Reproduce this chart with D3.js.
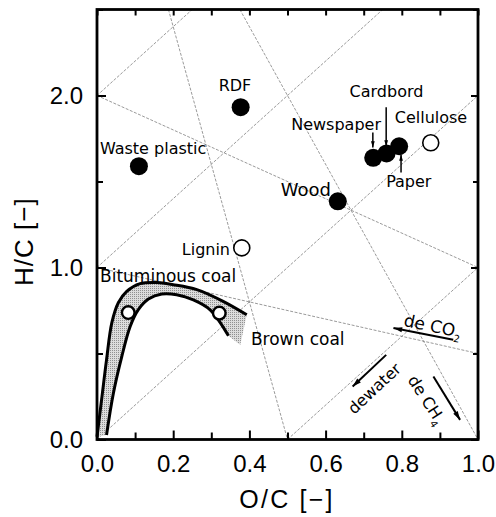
<!DOCTYPE html>
<html>
<head>
<meta charset="utf-8">
<script src="https://cdn.jsdelivr.net/npm/d3@7"></script>
<style>
  body { margin: 0; background: #fff; }
  svg { display: block; }
</style>
</head>
<body>
<div id="chart"></div>
<script>
// fuels (filled markers)
const fuelNames = ["RDF", "Waste plastic", "Wood", "Newspaper", "Cardbord", "Paper"];
const fuelOC = [0.377, 0.110, 0.632, 0.725, 0.760, 0.793];
const fuelHC = [1.932, 1.589, 1.385, 1.638, 1.663, 1.705];

// reference materials (open markers), the two coal ones are unlabeled
const refNames = ["Cellulose", "Lignin", "", ""];
const refOC = [0.876, 0.380, 0.082, 0.321];
const refHC = [1.725, 1.114, 0.738, 0.735];

// coal band edges
const coalOuterOC = [0.0, 0.012, 0.025, 0.039, 0.056, 0.078, 0.113, 0.157, 0.200, 0.262, 0.331, 0.393];
const coalOuterHC = [0.016, 0.23, 0.463, 0.679, 0.795, 0.861, 0.906, 0.913, 0.900, 0.871, 0.803, 0.725];
const coalInnerOC = [0.025, 0.043, 0.065, 0.087, 0.108, 0.135, 0.170, 0.209, 0.253, 0.297, 0.345];
const coalInnerHC = [0.026, 0.269, 0.482, 0.657, 0.754, 0.817, 0.846, 0.842, 0.812, 0.754, 0.603];
const coalShadeEnd = [0.376, 0.55];

// guide lines: dewater (slope 2), de CO2 (through 2,0), de CH4 (through 0,4)
const guideX1 = [0, 0, 0, 0.5, 0, 0, 0.1875, 0.375];
const guideY1 = [2, 1, 0, 0, 2, 1, 2.5, 2.5];
const guideX2 = [0.25, 0.75, 1, 1, 1, 1, 0.5, 1];
const guideY2 = [2.5, 2.5, 2, 1, 1, 0.5, 0, 0];

// reaction direction arrows
const shiftText = ["de CO", "dewater", "de CH"];
const shiftSub = ["2", "", "4"];
const shiftOC0 = [0.935, 0.759, 0.883];
const shiftHC0 = [0.580, 0.492, 0.366];
const shiftOC1 = [0.778, 0.671, 0.953];
const shiftHC1 = [0.648, 0.308, 0.114];

// small pointers for Newspaper, Cardbord, Paper
const pointerOC = [0.724, 0.759, 0.798];
const pointerHC0 = [1.785, 1.931, 1.552];
const pointerHC1 = [1.698, 1.703, 1.657];

const xTicks = [0, 0.1, 0.2, 0.3, 0.4, 0.5, 0.6, 0.7, 0.8, 0.9, 1.0];
const xTickLabels = ["0.0", "0.2", "0.4", "0.6", "0.8", "1.0"];
const yTicks = [0, 0.5, 1.0, 1.5, 2.0, 2.5];
const yTickLabels = ["0.0", "1.0", "2.0"];

// layout
const width = 496, height = 517;
const margin = {top: 9.5, right: 18, bottom: 77.5, left: 97};
const labelFont = "'DejaVu Sans', sans-serif";
const axisFont = "'Liberation Sans', Arial, sans-serif";
const labelOffset = {
  "RDF": [-22, -16, 16], "Waste plastic": [-39, -12, 16], "Wood": [-57, -5, 18],
  "Newspaper": [-82, -28, 16], "Cardbord": [-37, -56, 16], "Paper": [-13, 41, 16],
  "Cellulose": [-36, -20, 16], "Lignin": [-60, 7, 16]
};
const shiftLabelPos = [[0.803, 0.661, 12, 17], [0.675, 0.143, -43, 16], [0.814, 0.3465, 57, 16]];

const x = d3.scaleLinear().domain([0, 1]).range([margin.left, width - margin.right]);
const y = d3.scaleLinear().domain([0, 2.5]).range([height - margin.bottom, margin.top]);

const svg = d3.select("#chart").append("svg")
  .attr("width", width).attr("height", height);

const defs = svg.append("defs");
const pat = defs.append("pattern").attr("id", "stipple")
  .attr("width", 2).attr("height", 2).attr("patternUnits", "userSpaceOnUse");
pat.append("rect").attr("width", 2).attr("height", 2).attr("fill", "#dcdcdc");
pat.append("rect").attr("width", 1).attr("height", 1).attr("fill", "#909090");

defs.append("marker").attr("id", "headBig")
  .attr("viewBox", "0 -4 10 8").attr("refX", 10).attr("refY", 0)
  .attr("markerWidth", 10).attr("markerHeight", 7)
  .attr("markerUnits", "userSpaceOnUse").attr("orient", "auto")
  .append("path").attr("d", "M0,-3L10,0L0,3Z").attr("fill", "#000");
defs.append("marker").attr("id", "headSmall")
  .attr("viewBox", "0 -4 10 8").attr("refX", 10).attr("refY", 0)
  .attr("markerWidth", 7).attr("markerHeight", 5)
  .attr("markerUnits", "userSpaceOnUse").attr("orient", "auto")
  .append("path").attr("d", "M0,-3L10,0L0,3Z").attr("fill", "#000");

// guide lines
svg.append("g").selectAll("line")
  .data(guideX1)
  .join("line")
  .attr("x1", (d, i) => x(guideX1[i])).attr("y1", (d, i) => y(guideY1[i]))
  .attr("x2", (d, i) => x(guideX2[i])).attr("y2", (d, i) => y(guideY2[i]))
  .attr("stroke", "#6e6e6e").attr("stroke-width", 0.7)
  .attr("stroke-dasharray", "3,1.5");

// coal band
const outer = coalOuterOC.map((v, i) => [v, coalOuterHC[i]]);
const inner = coalInnerOC.map((v, i) => [v, coalInnerHC[i]]);
const line = d3.line().x(d => x(d[0])).y(d => y(d[1])).curve(d3.curveCatmullRom);
const shadePath = line(outer) +
  "L" + x(coalShadeEnd[0]) + "," + y(coalShadeEnd[1]) +
  line(inner.slice().reverse()).replace(/^M/, "L") + "Z";
svg.append("path").attr("d", shadePath).attr("fill", "url(#stipple)");
svg.append("path").attr("d", line(outer)).attr("fill", "none")
  .attr("stroke", "#000").attr("stroke-width", 3);
svg.append("path").attr("d", line(inner)).attr("fill", "none")
  .attr("stroke", "#000").attr("stroke-width", 3);

// axes: ticks inward, labels on bottom and left
const isMajorX = d => Math.round(d * 10) % 2 === 0;
const isMajorY = d => Math.round(d * 2) % 2 === 0;
const fmt = d3.format(".1f");

function styleAxis(g) {
  g.select(".domain").remove();
  g.selectAll(".tick line").attr("stroke", "#000").attr("stroke-width", 2);
  g.selectAll("text").attr("font-family", axisFont).attr("font-size", 24).attr("fill", "#000");
}

svg.append("g").attr("transform", `translate(0,${y(0)})`)
  .call(d3.axisBottom(x).tickValues(xTicks).tickSize(-7).tickPadding(15.5)
    .tickFormat(d => xTickLabels.includes(fmt(d)) ? fmt(d) : ""))
  .call(styleAxis)
  .call(g => g.selectAll(".tick line").attr("y2", d => isMajorX(d) ? -9 : -7));

svg.append("g").attr("transform", `translate(0,${y(2.5)})`)
  .call(d3.axisTop(x).tickValues(xTicks).tickSize(-6).tickFormat(""))
  .call(styleAxis);

svg.append("g").attr("transform", `translate(${x(0)},0)`)
  .call(d3.axisLeft(y).tickValues(yTicks).tickSize(-7).tickPadding(14)
    .tickFormat(d => yTickLabels.includes(fmt(d)) ? fmt(d) : ""))
  .call(styleAxis)
  .call(g => g.selectAll(".tick line").attr("x2", d => isMajorY(d) ? 9 : 6));

svg.append("g").attr("transform", `translate(${x(1)},0)`)
  .call(d3.axisRight(y).tickValues(yTicks).tickSize(-6).tickFormat(""))
  .call(styleAxis)
  .call(g => g.selectAll(".tick line").attr("x2", d => isMajorY(d) ? -7 : -5));

// frame
svg.append("rect")
  .attr("x", x(0)).attr("y", y(2.5))
  .attr("width", x(1) - x(0)).attr("height", y(0) - y(2.5))
  .attr("fill", "none").attr("stroke", "#000").attr("stroke-width", 2.8);

// markers
svg.append("g").selectAll("circle")
  .data(fuelNames)
  .join("circle")
  .attr("cx", (d, i) => x(fuelOC[i])).attr("cy", (d, i) => y(fuelHC[i]))
  .attr("r", 9).attr("fill", "#000");

svg.append("g").selectAll("circle")
  .data(refNames)
  .join("circle")
  .attr("cx", (d, i) => x(refOC[i])).attr("cy", (d, i) => y(refHC[i]))
  .attr("r", (d, i) => i < 2 ? 8 : 6.3)
  .attr("fill", "#fff").attr("stroke", "#000")
  .attr("stroke-width", (d, i) => i < 2 ? 1.6 : 2.4);

// point labels
const labelled = fuelNames.map((n, i) => ({n, oc: fuelOC[i], hc: fuelHC[i]}))
  .concat(refNames.map((n, i) => ({n, oc: refOC[i], hc: refHC[i]})).filter(d => d.n));
svg.append("g").selectAll("text")
  .data(labelled)
  .join("text")
  .attr("x", d => x(d.oc) + labelOffset[d.n][0])
  .attr("y", d => y(d.hc) + labelOffset[d.n][1])
  .attr("font-family", labelFont)
  .attr("font-size", d => labelOffset[d.n][2])
  .attr("fill", "#000")
  .text(d => d.n);

// coal labels
svg.append("text").attr("x", x(0.008)).attr("y", y(0.917))
  .attr("font-family", labelFont).attr("font-size", 17).text("Bituminous coal");
svg.append("text").attr("x", x(0.404)).attr("y", y(0.55))
  .attr("font-family", labelFont).attr("font-size", 17).text("Brown coal");

// pointers
svg.append("g").selectAll("line")
  .data(pointerOC)
  .join("line")
  .attr("x1", d => x(d)).attr("x2", d => x(d))
  .attr("y1", (d, i) => y(pointerHC0[i])).attr("y2", (d, i) => y(pointerHC1[i]))
  .attr("stroke", "#000").attr("stroke-width", 1.5)
  .attr("marker-end", "url(#headSmall)");

// direction arrows
svg.append("g").selectAll("line")
  .data(shiftText)
  .join("line")
  .attr("x1", (d, i) => x(shiftOC0[i])).attr("y1", (d, i) => y(shiftHC0[i]))
  .attr("x2", (d, i) => x(shiftOC1[i])).attr("y2", (d, i) => y(shiftHC1[i]))
  .attr("stroke", "#000").attr("stroke-width", 2)
  .attr("marker-end", "url(#headBig)");

const shiftLabels = svg.append("g").selectAll("text")
  .data(shiftText)
  .join("text")
  .attr("transform", (d, i) => {
    const p = shiftLabelPos[i];
    return `translate(${x(p[0])},${y(p[1])}) rotate(${p[2]})`;
  })
  .attr("font-family", labelFont)
  .attr("font-size", (d, i) => shiftLabelPos[i][3])
  .attr("fill", "#000");
shiftLabels.append("tspan").text(d => d);
shiftLabels.append("tspan")
  .attr("font-size", 10).attr("dy", 5)
  .text((d, i) => shiftSub[i]);

// axis titles
svg.append("text")
  .attr("x", 287).attr("y", 508)
  .attr("text-anchor", "middle")
  .attr("font-family", axisFont).attr("font-size", 25)
  .attr("letter-spacing", 2.2)
  .text("O/C [−]");
svg.append("text")
  .attr("transform", `translate(33,${y(1.15)}) rotate(-90)`)
  .attr("text-anchor", "middle")
  .attr("font-family", axisFont).attr("font-size", 26)
  .attr("letter-spacing", 1)
  .text("H/C [−]");
</script>
</body>
</html>
